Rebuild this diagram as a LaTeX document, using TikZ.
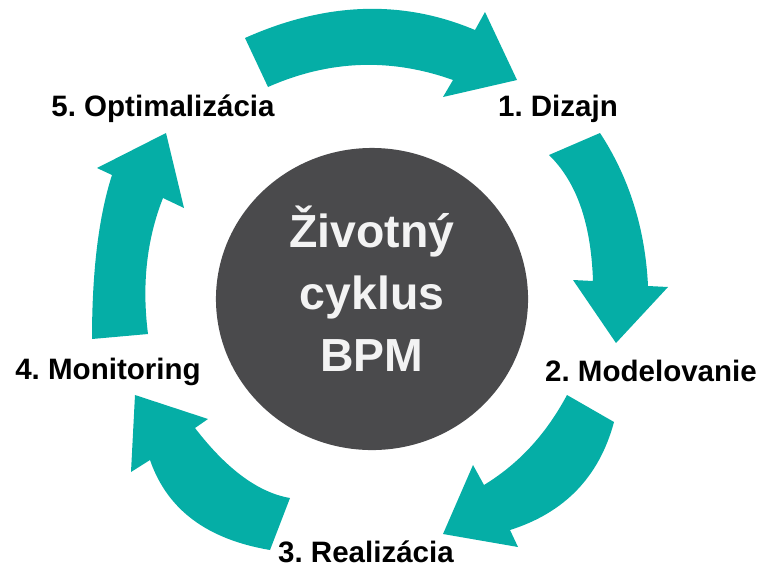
\documentclass[tikz,border=0pt]{standalone}
\usepackage{fontspec}
\setmainfont{Liberation Sans}
\usetikzlibrary{shapes.geometric}
\frenchspacing

\definecolor{bpmteal}{RGB}{5,174,166}
\definecolor{bpmgray}{RGB}{74,74,76}
\definecolor{bpmwhite}{RGB}{243,243,243}

\begin{document}
\begin{tikzpicture}[x=0.025cm, y=-0.025cm]

          % Definitions
          \tikzstyle{step_label} = [anchor=base, inner sep=0pt, text=black, font=\fontsize{21}{25}\selectfont\bfseries]
          \tikzstyle{hub} = [ellipse, minimum width=7.8cm, minimum height=7.55cm, fill=bpmgray, inner sep=0pt]
          \tikzstyle{title} = [inner sep=0pt, align=center, text=bpmwhite, font=\fontsize{33}{44}\selectfont\bfseries]
          \tikzstyle{cycarrow} = [fill=bpmteal]

          \useasboundingbox (0,0) rectangle (761,567);

          \node (bpm) [hub] at (372,299) {};
          \node (title) [title] at (372,289) {Životný\\cyklus\\BPM};

          \node (dizajn) [step_label] at (558,116) {1. Dizajn};
          \node (modelovanie) [step_label] at (651,381) {2. Modelovanie};
          \node (realizacia) [step_label] at (366,562) {3. Realizácia};
          \node (monitoring) [step_label] at (108,379) {4. Monitoring};
          \node (optimalizacia) [step_label] at (163,116) {5. Optimalizácia};

          % 5 -> 1
          \fill [cycarrow] (245,38) .. controls (325.7,2) and (402.3,-0.7) .. (475,30)
            -- (485,12) -- (517,80) -- (443,97) -- (453,80)
            .. controls (390.7,57.7) and (329,60) .. (268,87) -- cycle;
          % 1 -> 2
          \fill [cycarrow] (600,133) .. controls (629.3,177.7) and (645.3,229) .. (648,286)
            -- (668,287) -- (616,343) -- (573,280) -- (593,281)
            .. controls (591,222.3) and (576.3,181.7) .. (549,155) -- cycle;
          % 2 -> 3
          \fill [cycarrow] (614,422) .. controls (599.3,476.7) and (564.7,512.7) .. (510,530)
            -- (518,547) -- (443,534) -- (473,465) -- (484,485)
            .. controls (517.7,464.3) and (545,436) .. (567,395) -- cycle;
          % 3 -> 4
          \fill [cycarrow] (270,550) .. controls (207.3,539.3) and (167.3,510) .. (150,460)
            -- (131,472) -- (135,395) -- (208,419) -- (195,428)
            .. controls (227.3,470) and (259,492.7) .. (290,498) -- cycle;
          % 4 -> 5
          \fill [cycarrow] (92,339) .. controls (92,271) and (98.7,216.3) .. (112,175)
            -- (97,168) -- (166,133) -- (184,208) -- (163,198)
            .. controls (146.7,239.3) and (141.7,284.7) .. (148,334) -- cycle;

        \end{tikzpicture}
\end{document}
